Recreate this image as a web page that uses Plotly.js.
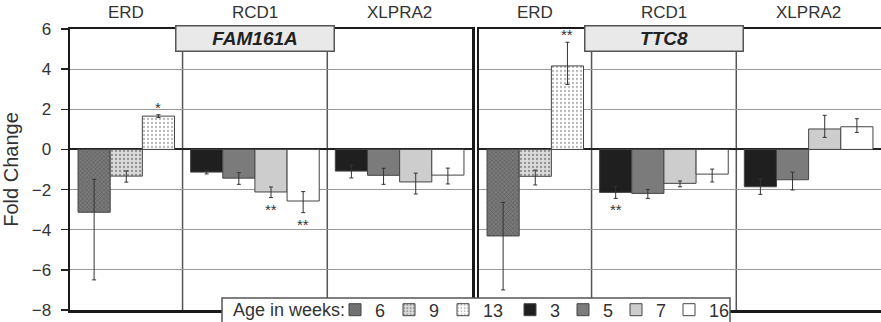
<!DOCTYPE html>
<html>
<head>
<meta charset="utf-8">
<script src="https://cdn.plot.ly/plotly-3.0.1.min.js"></script>
<style>html,body{margin:0;padding:0;background:#fff;}#chart{width:881px;height:322px;}</style>
</head>
<body>
<div id="chart"></div>
<script>
// ---------------- DATA ----------------
const groupNames = ['ERD', 'RCD1', 'XLPRA2'];
const erdAges = ['6', '9', '13'];
const lateAges = ['3', '5', '7', '16'];
const geneNames = ['FAM161A', 'TTC8'];
const legendTitle = 'Age in weeks:';

// FAM161A
const famERD = [-3.13, -1.33, 1.66];
const famERDup = [1.64, 0.26, 0.07];
const famERDdn = [3.37, 0.30, 0.07];
const famERDsig = ['', '', '*'];
const famRCD1 = [-1.13, -1.43, -2.12, -2.57];
const famRCD1up = [0.10, 0.27, 0.25, 0.47];
const famRCD1dn = [0.09, 0.31, 0.28, 0.58];
const famRCD1sig = ['', '', '**', '**'];
const famXLPRA2 = [-1.08, -1.29, -1.62, -1.28];
const famXLPRA2up = [0.30, 0.35, 0.44, 0.35];
const famXLPRA2dn = [0.34, 0.45, 0.60, 0.44];
const famXLPRA2sig = ['', '', '', ''];

// TTC8
const ttcERD = [-4.31, -1.34, 4.16];
const ttcERDup = [1.67, 0.31, 1.18];
const ttcERDdn = [2.69, 0.43, 0.92];
const ttcERDsig = ['', '', '**'];
const ttcRCD1 = [-2.14, -2.19, -1.69, -1.23];
const ttcRCD1up = [0.30, 0.20, 0.12, 0.25];
const ttcRCD1dn = [0.30, 0.25, 0.17, 0.39];
const ttcRCD1sig = ['**', '', '', ''];
const ttcXLPRA2 = [-1.86, -1.51, 1.02, 1.13];
const ttcXLPRA2up = [0.38, 0.38, 0.68, 0.40];
const ttcXLPRA2dn = [0.38, 0.51, 0.42, 0.28];
const ttcXLPRA2sig = ['', '', '', ''];

// ---------------- STYLE ----------------
const FONT = 'Liberation Sans, Arial, Helvetica, sans-serif';
const ageStyle = {
  '6':  {color: '#727272', pattern: {shape: 'x', fgcolor: '#4d4d4d', bgcolor: '#7a7a7a', size: 3, solidity: 0.25}},
  '9':  {color: '#d6d6d6', pattern: {shape: '.', fgcolor: '#909090', bgcolor: '#dadada', size: 4, solidity: 0.25}},
  '13': {color: '#ffffff', pattern: {shape: '.', fgcolor: '#b8b8b8', bgcolor: '#ffffff', size: 4, solidity: 0.25}},
  '3':  {color: '#1f1f1f'},
  '5':  {color: '#7b7b7b'},
  '7':  {color: '#cdcdcd'},
  '16': {color: '#ffffff'}
};

const genes = [
  {name: geneNames[0], ax: '', groups: [
    {ages: erdAges, v: famERD, up: famERDup, dn: famERDdn, sig: famERDsig},
    {ages: lateAges, v: famRCD1, up: famRCD1up, dn: famRCD1dn, sig: famRCD1sig},
    {ages: lateAges, v: famXLPRA2, up: famXLPRA2up, dn: famXLPRA2dn, sig: famXLPRA2sig}]},
  {name: geneNames[1], ax: '2', groups: [
    {ages: erdAges, v: ttcERD, up: ttcERDup, dn: ttcERDdn, sig: ttcERDsig},
    {ages: lateAges, v: ttcRCD1, up: ttcRCD1up, dn: ttcRCD1dn, sig: ttcRCD1sig},
    {ages: lateAges, v: ttcXLPRA2, up: ttcXLPRA2up, dn: ttcXLPRA2dn, sig: ttcXLPRA2sig}]}
];

// group geometry in bar-width units
const PAD = 0.25;
const groupStart = [];
let acc = 0;
genes[0].groups.forEach(g => { groupStart.push(acc); acc += g.ages.length + 2 * PAD; });
const XMAX = acc;

const traces = [];
const annotations = [];
const shapes = [];

// paper helpers (layout positions)
const L = 70, PW = 811, T = 29, PH = 281;
const px2x = px => (px - L) / PW;
const px2y = py => (T + PH - py) / PH;

genes.forEach((gene, gi) => {
  const xa = 'x' + gene.ax, ya = 'y' + gene.ax;
  const allAges = erdAges.concat(lateAges);
  allAges.forEach(age => {
    const xs = [], ys = [], ups = [], dns = [];
    gene.groups.forEach((g, k) => {
      const idx = g.ages.indexOf(age);
      if (idx < 0) return;
      xs.push(groupStart[k] + PAD + idx + 0.5);
      ys.push(g.v[idx]); ups.push(g.up[idx]); dns.push(g.dn[idx]);
    });
    const st = ageStyle[age];
    const marker = {color: st.color, line: {color: '#454545', width: 1}};
    if (st.pattern) marker.pattern = st.pattern;
    const isErd = erdAges.indexOf(age) >= 0;
    const list = isErd ? erdAges : lateAges;
    const tr = {
      type: 'bar', name: age, x: xs, y: ys, width: 1,
      xaxis: xa, yaxis: ya, marker: marker,
      error_y: {type: 'data', symmetric: false, array: ups, arrayminus: dns,
                color: '#333', thickness: 1, width: 2},
      showlegend: gi === 0,
      legend: isErd ? 'legend' : 'legend2',
      hoverinfo: 'x+y'
    };
    if (list.indexOf(age) === list.length - 1) tr.legendwidth = 24;
    traces.push(tr);
  });
  // significance stars
  gene.groups.forEach((g, k) => {
    g.sig.forEach((s, idx) => {
      if (!s) return;
      const v = g.v[idx];
      const pos = v >= 0;
      annotations.push({
        xref: xa, yref: ya, x: groupStart[k] + PAD + idx + 0.5,
        y: pos ? v + g.up[idx] : v - g.dn[idx],
        yanchor: pos ? 'bottom' : 'top', yshift: pos ? -3 : -1,
        text: s, showarrow: false, font: {family: FONT, size: 15, color: '#333'}
      });
    });
  });
  // group separators and labels
  groupNames.forEach((gn, k) => {
    if (k > 0) shapes.push({type: 'line', xref: xa, yref: ya, x0: groupStart[k], x1: groupStart[k],
      y0: -8, y1: 6, line: {color: '#555', width: 1.5}, layer: 'below'});
    const w = gene.groups[k].ages.length + 2 * PAD;
    annotations.push({xref: xa, yref: 'paper', x: groupStart[k] + w / 2, y: px2y(12),
      yanchor: 'middle', text: gn, showarrow: false, font: {family: FONT, size: 17, color: '#333'}});
  });
  // gene title box
  const rcdW = gene.groups[1].ages.length + 2 * PAD;
  annotations.push({xref: xa, yref: 'paper', x: groupStart[1] + rcdW / 2, y: px2y(38),
    yanchor: 'middle', xanchor: 'center', text: '<b><i>' + gene.name + '</i></b>', showarrow: false,
    width: 155, height: 22, borderpad: 1, bgcolor: '#e9e9e9', bordercolor: '#555', borderwidth: 1.5,
    font: {family: FONT, size: 19, color: '#222'}});
});

// legend box + title
shapes.push({type: 'rect', xref: 'paper', yref: 'paper', x0: px2x(222), x1: px2x(730),
  y0: px2y(323), y1: px2y(298), fillcolor: '#fff', line: {color: '#555', width: 1.5}, layer: 'above'});
annotations.push({xref: 'paper', yref: 'paper', x: px2x(231), xanchor: 'left', y: px2y(310), yanchor: 'middle',
  text: legendTitle, showarrow: false, font: {family: FONT, size: 18, color: '#333'}});

const axX = {range: [0, XMAX], showticklabels: false, ticks: '', showgrid: false, zeroline: false,
  showline: true, linecolor: '#1a1a1a', linewidth: 2.5, mirror: true, fixedrange: true};
const axY = {range: [-8, 6], dtick: 2, tick0: 0, showgrid: true, gridcolor: '#9a9a9a', gridwidth: 1.2,
  zeroline: true, zerolinecolor: '#222', zerolinewidth: 2,
  showline: true, linecolor: '#1a1a1a', linewidth: 2.5, mirror: true};

const legendCommon = {orientation: 'h', xanchor: 'left', y: px2y(310), yanchor: 'middle',
  bgcolor: 'rgba(0,0,0,0)', borderwidth: 0, entrywidthmode: 'pixels',
  font: {family: FONT, size: 18, color: '#333'}};

const layout = {
  width: 881, height: 322,
  margin: {l: L, r: 0, t: T, b: 322 - T - PH, autoexpand: false},
  paper_bgcolor: '#fff', plot_bgcolor: '#fff',
  font: {family: FONT, color: '#333'},
  barmode: 'overlay',
  xaxis: Object.assign({}, axX, {domain: [0, 402 / PW], anchor: 'y'}),
  xaxis2: Object.assign({}, axX, {domain: [409 / PW, 1], anchor: 'y2'}),
  yaxis: Object.assign({}, axY, {anchor: 'x', ticks: 'outside', ticklen: 7, tickwidth: 1.5, tickcolor: '#222',
    tickfont: {family: FONT, size: 17, color: '#333'}, ticklabelstandoff: 6,
    title: {text: 'Fold Change', font: {family: FONT, size: 20, color: '#333'}, standoff: 8}}),
  yaxis2: Object.assign({}, axY, {anchor: 'x2', showticklabels: false, ticks: ''}),
  legend: Object.assign({}, legendCommon, {x: px2x(335), entrywidth: 9}),
  legend2: Object.assign({}, legendCommon, {x: px2x(510), entrywidth: 8}),
  annotations: annotations,
  shapes: shapes,
  showlegend: true
};

Plotly.newPlot('chart', traces, layout, {displayModeBar: false, staticPlot: true});
</script>
</body>
</html>
